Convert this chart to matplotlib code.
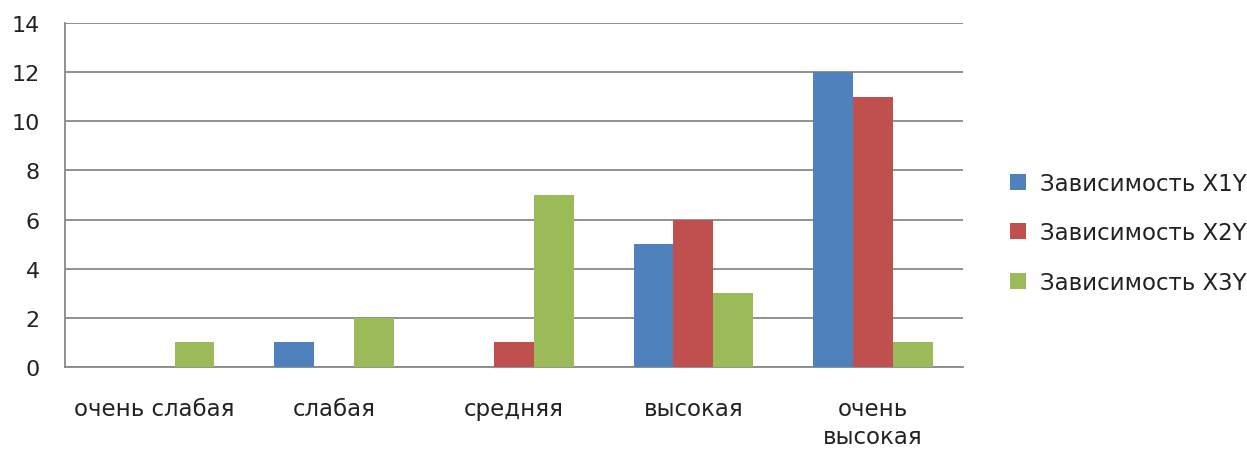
import numpy as np
import matplotlib.pyplot as plt

# данные
categories = ['очень слабая', 'слабая', 'средняя', 'высокая', 'очень\nвысокая']
x1y = [0, 1, 0, 5, 12]
x2y = [0, 0, 1, 6, 11]
x3y = [1, 2, 7, 3, 1]
series_names = ['Зависимость X1Y', 'Зависимость X2Y', 'Зависимость X3Y']
colors = ['#4F81BD', '#C0504D', '#9BBB59']
yticks = [0, 2, 4, 6, 8, 10, 12, 14]

plt.rcParams['font.family'] = ['DejaVu Sans']

fig = plt.figure(figsize=(12.47, 4.52), dpi=100)
ax = fig.add_axes([0.052, 0.186, 0.72, 0.761])

x = np.arange(len(categories))
w = 0.222
for i, (vals, name, c) in enumerate(zip([x1y, x2y, x3y], series_names, colors)):
    ax.bar(x + (i - 1) * w, vals, width=w, color=c, label=name, zorder=3)

ax.set_xlim(-0.5, len(categories) - 0.5)
ax.set_ylim(0, 14)
ax.set_yticks(yticks)
ax.set_xticks(x)
ax.set_xticklabels(categories, fontsize=16.5, color='#222222', linespacing=1.25)
ax.tick_params(axis='y', labelsize=16, length=0, pad=18, labelcolor='#222222')
ax.tick_params(axis='x', length=0, pad=22)
ax.grid(axis='y', color='#888888', linewidth=1.3, zorder=0)
for s in ['top', 'right']:
    ax.spines[s].set_visible(False)
for s in ['left', 'bottom']:
    ax.spines[s].set_color('#888888')
    ax.spines[s].set_linewidth(1.3)

ax.legend(loc='center left', bbox_to_anchor=(1.03, 0.39), frameon=False,
          fontsize=16.5, handlelength=0.7, handleheight=0.7, handletextpad=0.6,
          labelspacing=1.15, labelcolor='#222222')

fig.savefig('out.png', dpi=100)
